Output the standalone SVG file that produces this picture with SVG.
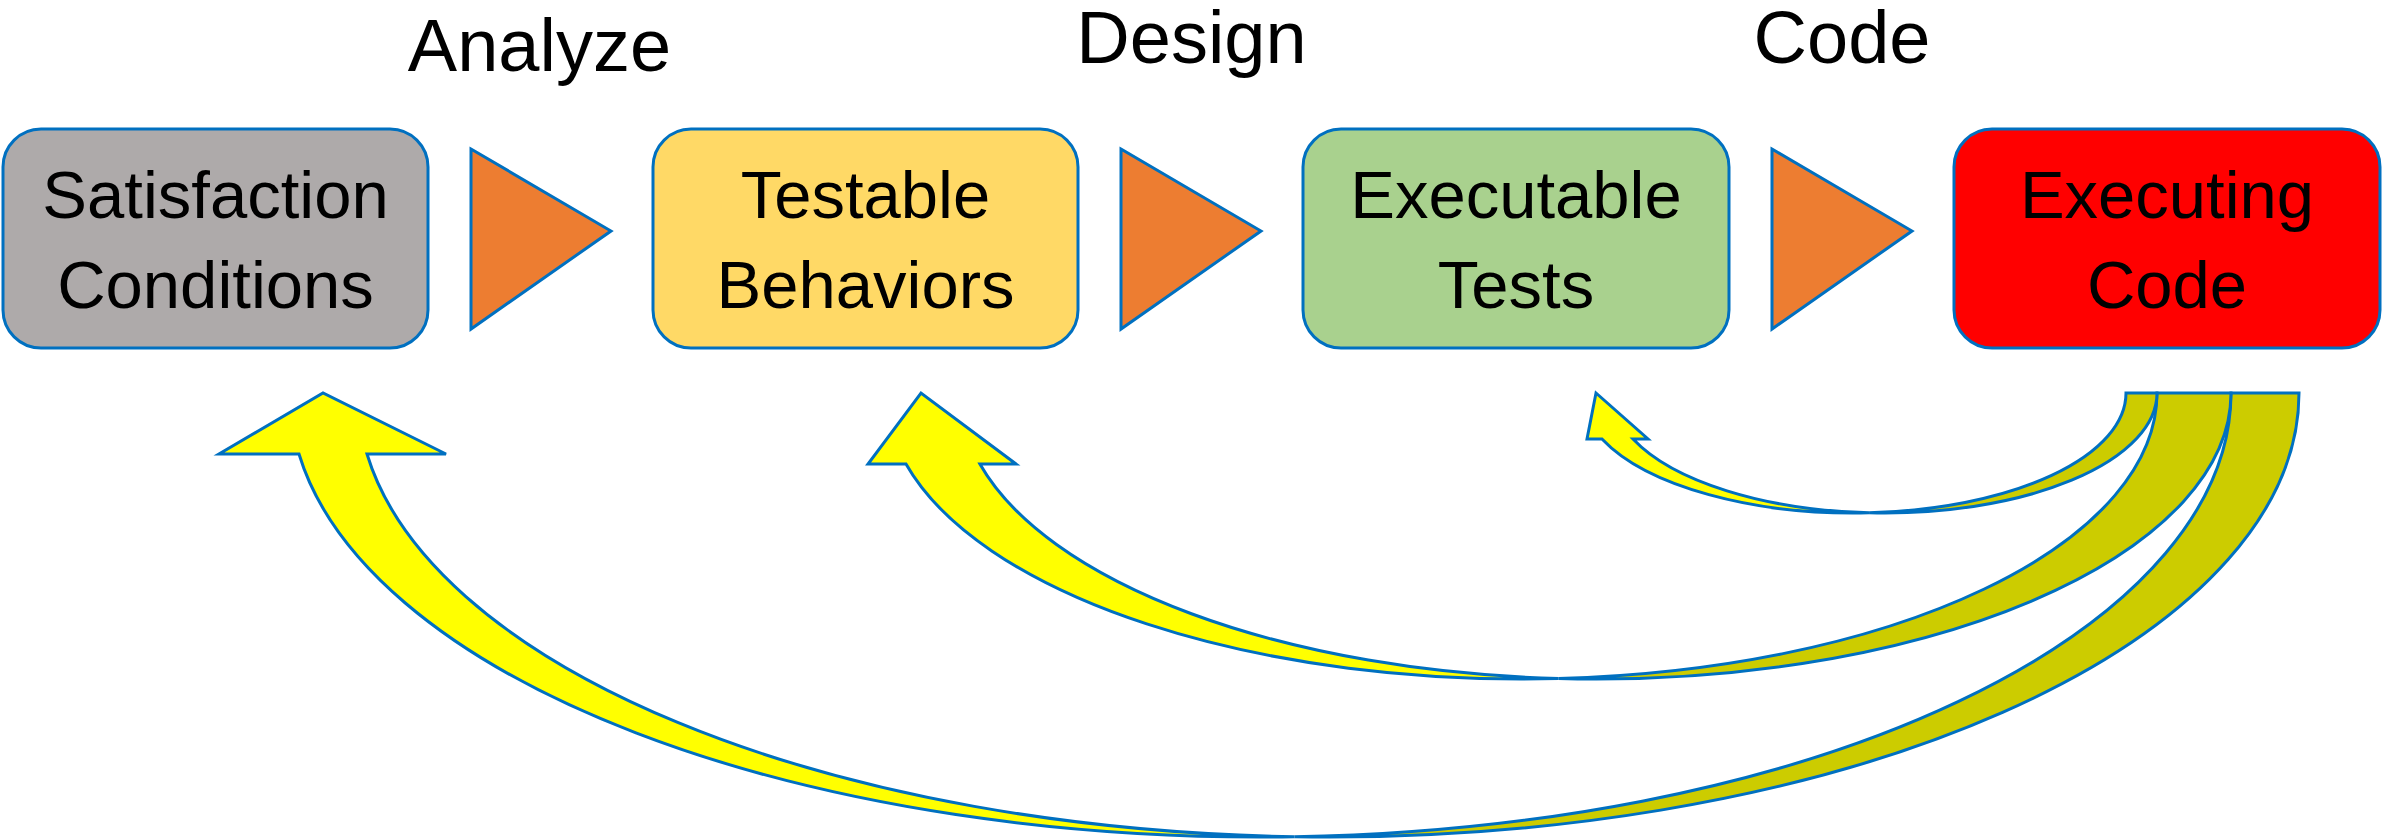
<svg xmlns="http://www.w3.org/2000/svg" width="2382" height="840" viewBox="0 0 2382 840">
<style>
.box{stroke:#0070C0;stroke-width:3}
.tri{fill:#ED7D31;stroke:#0070C0;stroke-width:3;stroke-linejoin:miter}
.t{font-family:"Liberation Sans",Arial,sans-serif;fill:#000;text-anchor:middle}
.bt{font-size:67px}
.lt{font-size:74px}
.front{fill:#FFFF00;stroke:#0070C0;stroke-width:3;stroke-linejoin:miter}
.back{fill:#CCCC00;stroke:#0070C0;stroke-width:3;stroke-linejoin:miter}
</style>
<rect width="2382" height="840" fill="#FFFFFF"/>
<g id="labels">
<text class="t lt" x="539.5" y="71">Analyze</text>
<text class="t lt" x="1191.5" y="63">Design</text>
<text class="t lt" x="1842" y="63">Code</text>
</g>
<g id="node-satisfaction">
<rect class="box" x="3" y="129" width="425" height="219" rx="38" ry="38" fill="#AEAAAA"/>
<text class="t bt" x="215.5" y="218">Satisfaction</text>
<text class="t bt" x="215.5" y="308">Conditions</text>
</g>
<g id="node-testable">
<rect class="box" x="653" y="129" width="425" height="219" rx="38" ry="38" fill="#FFD966"/>
<text class="t bt" x="865.5" y="218">Testable</text>
<text class="t bt" x="865.5" y="308">Behaviors</text>
</g>
<g id="node-executable">
<rect class="box" x="1303" y="129" width="426" height="219" rx="38" ry="38" fill="#A9D18E"/>
<text class="t bt" x="1516" y="218">Executable</text>
<text class="t bt" x="1516" y="308">Tests</text>
</g>
<g id="node-executing">
<rect class="box" x="1954" y="129" width="426" height="219" rx="38" ry="38" fill="#FF0000"/>
<text class="t bt" x="2167" y="218">Executing</text>
<text class="t bt" x="2167" y="308">Code</text>
</g>
<g id="connectors">
<polygon class="tri" points="471,149 611,231 471,329"/>
<polygon class="tri" points="1121,149 1261,231 1121,329"/>
<polygon class="tri" points="1772,149 1912,231 1772,329"/>
<g id="arrow-to-satisfaction">
<path class="back" d="M2299 393 A970.6 444 0 0 1 1294.4 836.7 A970.6 444 0 0 0 2231 393 Z"/>
<path class="front" d="M299 454 A970.6 444 0 0 0 1294.4 836.7 A970.6 444 0 0 1 367 454 L446 454 L323 393 L219 454 Z"/>
</g>
<g id="arrow-to-testable">
<path class="back" d="M2231 393 A635.5 286 0 0 1 1558.5 678.5 A635.5 286 0 0 0 2157 393 Z"/>
<path class="front" d="M906 464 A635.5 286 0 0 0 1558.5 678.5 A635.5 286 0 0 1 979.9 464 L1016 464 L921 393 L868 464 Z"/>
</g>
<g id="arrow-to-executable">
<path class="back" d="M2157 393 A272.4 120 0 0 1 1869.1 512.8 A272.4 120 0 0 0 2126 393 Z"/>
<path class="front" d="M1602 439 A272.4 120 0 0 0 1869.1 512.8 A272.4 120 0 0 1 1633 439 L1648 439 L1596 393 L1587 439 Z"/>
</g>
</g>
</svg>
